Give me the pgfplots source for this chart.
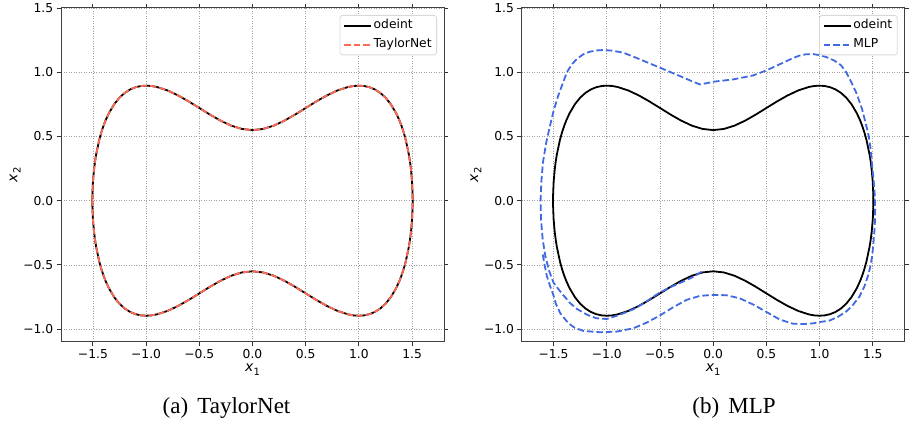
\documentclass[border=0pt]{standalone}
\usepackage{pgfplots}
\pgfplotsset{compat=1.18}
\usepackage{pgfplotstable}
\usepackage{fontspec}
\setmainfont{DejaVu Sans}
\newfontfamily\capfont{Liberation Serif}
\definecolor{tnred}{HTML}{FF6A55}
\definecolor{mlpblue}{HTML}{4169E1}
\definecolor{gridc}{HTML}{A0A0A0}

% odeint orbit (closed loop, clockwise from leftmost point)
\pgfplotstableread{
x y
-1.5055 0
-1.505 0.0431
-1.50 0.1441
-1.49 0.2402
-1.48 0.3057
-1.47 0.3580
-1.44 0.4751
-1.42 0.5343
-1.40 0.5841
-1.38 0.6269
-1.35 0.6810
-1.30 0.7510
-1.25 0.8024
-1.20 0.8398
-1.15 0.8660
-1.10 0.8831
-1.05 0.8926
-1.00 0.8955
-0.95 0.8929
-0.90 0.8854
-0.80 0.8586
-0.70 0.8197
-0.60 0.7728
-0.50 0.7216
-0.40 0.6702
-0.30 0.6229
-0.20 0.5841
-0.10 0.5585
0.00 0.5495
0.10 0.5585
0.20 0.5841
0.30 0.6229
0.40 0.6702
0.50 0.7216
0.60 0.7728
0.70 0.8197
0.80 0.8586
0.90 0.8854
0.95 0.8929
1.00 0.8955
1.05 0.8926
1.10 0.8831
1.15 0.8660
1.20 0.8398
1.25 0.8024
1.30 0.7510
1.35 0.6810
1.38 0.6269
1.40 0.5841
1.42 0.5343
1.44 0.4751
1.47 0.3580
1.48 0.3057
1.49 0.2402
1.50 0.1441
1.505 0.0431
1.5055 0
1.505 -0.0431
1.50 -0.1441
1.49 -0.2402
1.48 -0.3057
1.47 -0.3580
1.44 -0.4751
1.42 -0.5343
1.40 -0.5841
1.38 -0.6269
1.35 -0.6810
1.30 -0.7510
1.25 -0.8024
1.20 -0.8398
1.15 -0.8660
1.10 -0.8831
1.05 -0.8926
1.00 -0.8955
0.95 -0.8929
0.90 -0.8854
0.80 -0.8586
0.70 -0.8197
0.60 -0.7728
0.50 -0.7216
0.40 -0.6702
0.30 -0.6229
0.20 -0.5841
0.10 -0.5585
0.00 -0.5495
-0.10 -0.5585
-0.20 -0.5841
-0.30 -0.6229
-0.40 -0.6702
-0.50 -0.7216
-0.60 -0.7728
-0.70 -0.8197
-0.80 -0.8586
-0.90 -0.8854
-0.95 -0.8929
-1.00 -0.8955
-1.05 -0.8926
-1.10 -0.8831
-1.15 -0.8660
-1.20 -0.8398
-1.25 -0.8024
-1.30 -0.7510
-1.35 -0.6810
-1.38 -0.6269
-1.40 -0.5841
-1.42 -0.5343
-1.44 -0.4751
-1.47 -0.3580
-1.48 -0.3057
-1.49 -0.2402
-1.50 -0.1441
-1.505 -0.0431
-1.5055 0
}\odeint

% MLP rollout (open, drifts outward)
\pgfplotstableread{
x y
-0.109 -0.553
-0.20 -0.598
-0.30 -0.636
-0.40 -0.672
-0.50 -0.714
-0.5625 -0.748
-0.65 -0.797
-0.75 -0.845
-0.875 -0.887
-1.00 -0.921
-1.10 -0.915
-1.187 -0.887
-1.28 -0.843
-1.344 -0.798
-1.42 -0.725
-1.50 -0.640
-1.545 -0.540
-1.578 -0.430
-1.603 -0.300
-1.618 -0.150
-1.623 0.000
-1.615 0.150
-1.600 0.300
-1.570 0.450
-1.535 0.580
-1.50 0.700
-1.46 0.810
-1.42 0.900
-1.375 1.000
-1.33 1.060
-1.28 1.105
-1.22 1.140
-1.16 1.160
-1.09 1.170
-1.03 1.173
-0.95 1.168
-0.844 1.152
-0.6875 1.100
-0.50 1.035
-0.3125 0.970
-0.20 0.930
-0.125 0.905
-0.06 0.915
0.00 0.926
0.1875 0.944
0.375 0.975
0.50 1.014
0.656 1.074
0.75 1.110
0.8125 1.130
0.875 1.140
0.9375 1.141
1.00 1.133
1.0625 1.118
1.14 1.090
1.20 1.055
1.25 1.000
1.30 0.920
1.35 0.830
1.40 0.710
1.44 0.580
1.4625 0.500
1.48 0.400
1.495 0.260
1.508 0.160
1.518 0.050
1.522 -0.050
1.521 -0.150
1.516 -0.226
1.506 -0.330
1.494 -0.434
1.475 -0.520
1.453 -0.590
1.42 -0.670
1.375 -0.746
1.31 -0.815
1.25 -0.863
1.17 -0.905
1.094 -0.933
1.00 -0.945
0.9375 -0.955
0.85 -0.960
0.75 -0.958
0.625 -0.925
0.50 -0.866
0.375 -0.808
0.25 -0.760
0.125 -0.736
0.00 -0.733
-0.125 -0.741
-0.25 -0.772
-0.375 -0.829
-0.50 -0.893
-0.625 -0.949
-0.75 -0.993
-0.906 -1.019
-1.0625 -1.024
-1.219 -1.014
-1.30 -0.990
-1.36 -0.955
-1.4375 -0.876
-1.48 -0.800
-1.50 -0.740
-1.535 -0.660
-1.5625 -0.590
-1.590 -0.480
-1.605 -0.400
}\mlp

\newcommand{\xlab}[1]{\textit{x}\raisebox{-0.22em}{\fontsize{10bp}{10bp}\selectfont #1}}

\tikzset{
  odeline/.style={draw=black, line width=1.8bp, sharp corners},
  tnline/.style={draw=tnred, line width=1.8bp, dash pattern=on 6.5bp off 3bp, sharp corners},
  mlpline/.style={draw=mlpblue, line width=1.8bp, dash pattern=on 6.5bp off 3bp, sharp corners},
}

\pgfplotsset{
  panel/.style={
    anchor=south west, scale only axis, width=383bp, height=334bp,
    xmin=-1.8, xmax=1.8, ymin=-1.1, ymax=1.5,
    xtick={-1.5,-1,-0.5,0,0.5,1,1.5},
    xticklabels={−1.5,−1.0,−0.5,0.0,0.5,1.0,1.5},
    ytick={-1,-0.5,0,0.5,1,1.5},
    yticklabels={−1.0,−0.5,0.0,0.5,1.0,1.5},
    tick align=outside, major tick length=4.3bp,
    tick style={black!80, line width=0.9bp},
    axis line style={black!75, line width=1bp},
    grid=major,
    grid style={gridc, line width=0.8bp, dash pattern=on 1bp off 1.5bp},
    ticklabel style={font=\fontsize{12.3bp}{14bp}\selectfont},
    xlabel={\xlab{1}},
    ylabel={\xlab{2}},
    xlabel style={font=\fontsize{14bp}{16bp}\selectfont,
      at={([yshift=-30bp]axis description cs:0.5,0)}, anchor=base},
    ylabel style={font=\fontsize{14bp}{16bp}\selectfont,
      at={([xshift=-43.5bp]axis description cs:0,0.5)}, anchor=base},
    legend cell align=left,
    legend style={at={(1,1)}, anchor=north east, xshift=-7bp, yshift=-7bp,
      draw=black!15, rounded corners=2.5bp, line width=0.8bp,
      font=\fontsize{12.3bp}{14bp}\selectfont,
      inner xsep=3.5bp, inner ysep=3bp, row sep=4.5bp,
      nodes={inner sep=1.5bp, text height=9bp, text depth=2.5bp},
      /tikz/every even column/.append style={column sep=7bp}},
  },
}

\begin{document}
\begin{tikzpicture}
\useasboundingbox (0,0) rectangle (909bp,423bp);
\begin{axis}[panel, at={(61bp,81bp)}]
\addlegendimage{legend image code/.code={\draw[draw=black, line width=1.8bp] (0bp,0bp) -- (27bp,0bp);}}
\addlegendentry{odeint}
\addlegendimage{legend image code/.code={\draw[draw=tnred, line width=1.8bp, dash pattern=on 6.5bp off 3bp] (0bp,0bp) -- (27bp,0bp);}}
\addlegendentry{TaylorNet}
\addplot[odeline, forget plot] table {\odeint};
\addplot[tnline, forget plot] table {\odeint};
\end{axis}
\begin{axis}[panel, at={(521.7bp,81bp)}]
\addlegendimage{legend image code/.code={\draw[draw=black, line width=1.8bp] (0bp,0bp) -- (27bp,0bp);}}
\addlegendentry{odeint}
\addlegendimage{legend image code/.code={\draw[draw=mlpblue, line width=1.8bp, dash pattern=on 6.5bp off 3bp] (0bp,0bp) -- (27bp,0bp);}}
\addlegendentry{MLP}
\addplot[odeline, forget plot] table {\odeint};
\addplot[mlpline, forget plot] table {\mlp};
\end{axis}
\node[anchor=base, font=\capfont\fontsize{23bp}{26bp}\selectfont] at (226.5bp,10bp) {(a)\hspace{0.4em}TaylorNet};
\node[anchor=base, font=\capfont\fontsize{23bp}{26bp}\selectfont] at (734bp,10bp) {(b)\hspace{0.4em}MLP};
\end{tikzpicture}
\end{document}
